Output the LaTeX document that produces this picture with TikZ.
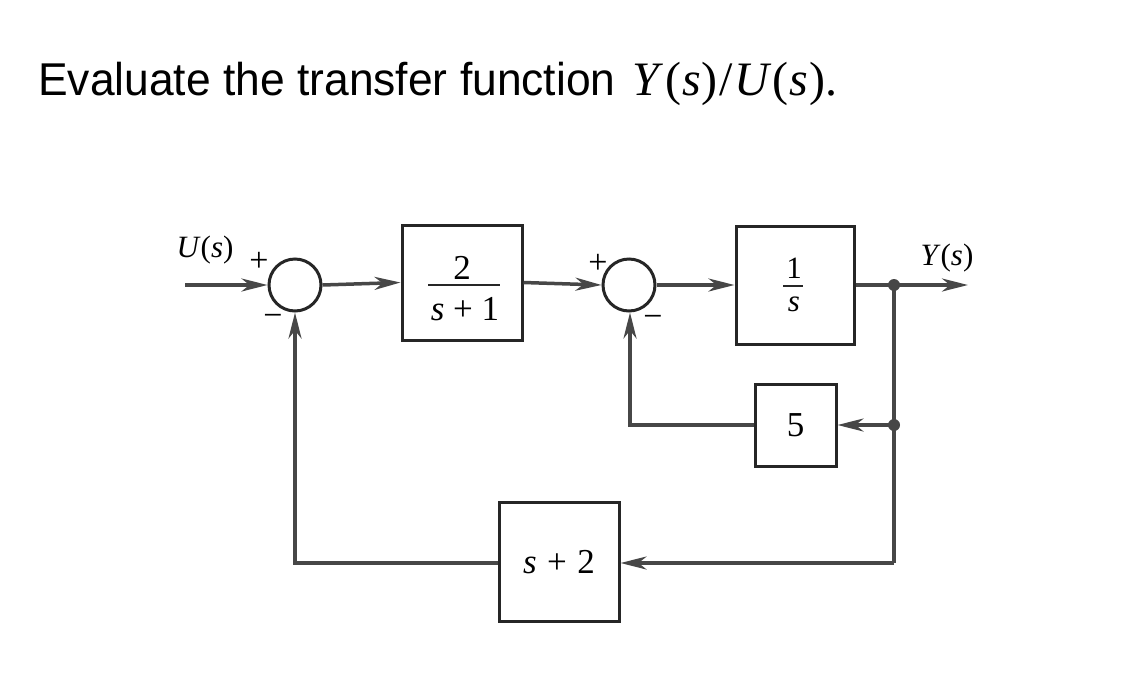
\documentclass[tikz,border=0pt]{standalone}
\usepackage{fontspec}
\setmainfont{Liberation Sans}
\newfontfamily\tfont{Liberation Serif}
\newfontfamily\titlefont[FakeStretch=0.965]{Liberation Sans}
\usetikzlibrary{arrows.meta}
\begin{document}
\begin{tikzpicture}[x=1pt,y=-1pt,
  blk/.style={draw=black!85, line width=3pt, fill=white, inner sep=0pt},
  sumj/.style={circle, draw=black!85, line width=3pt, minimum size=52pt, inner sep=0pt},
  lbl/.style={font=\tfont\fontsize{31}{33}\selectfont, inner sep=0pt},
  biglbl/.style={font=\tfont\fontsize{35}{37}\selectfont, inner sep=0pt},
  sgn/.style={font=\tfont\fontsize{34}{36}\selectfont, inner sep=0pt},
  wire/.style={draw=black!72, line width=3.5pt},
  arr/.style={wire, -{Stealth[length=26pt,width=13pt,inset=8pt]}},
  bar/.style={draw=black!85, line width=2.6pt},
  dot/.style={circle, fill=black!72, minimum size=12pt, inner sep=0pt}
]
\useasboundingbox (0,0) rectangle (1130,673);

% title
\node[anchor=base west, inner sep=0pt, font=\titlefont\fontsize{46}{50}\selectfont] (title) at (38,95)
  {Evaluate the transfer function\hspace{17pt}{\tfont\fontsize{48}{50}\selectfont\textit{Y}\kern1.5pt(\kern1pt\textit{s}\kern1pt)\kern1.5pt/\kern1.5pt\textit{U}\kern1.5pt(\kern1pt\textit{s}\kern1pt).}};

% blocks
\node[blk, minimum width=120pt, minimum height=115pt] (b1) at (462,282.5) {};
\node[biglbl, anchor=base] (b1n) at (462,279) {2};
\draw[bar] (428,285) -- (500,285);
\node[biglbl, anchor=base] (b1d) at (465,320) {\textit{s}\hspace{0.25em}+\hspace{0.25em}1};

\node[blk, minimum width=118pt, minimum height=118pt] (b2) at (795,285) {};
\node[lbl, anchor=base] (b2n) at (794,278) {1};
\draw[bar] (783,286) -- (803,286);
\node[lbl, anchor=base] (b2d) at (794,311) {\textit{s}};

\node[blk, minimum width=81pt, minimum height=82pt, biglbl] (b5) at (795.5,425) {5};
\node[blk, minimum width=120pt, minimum height=119pt, biglbl] (b4) at (559,562) {\textit{s}\hspace{0.3em}+\hspace{0.3em}2};

% summing junctions
\node[sumj] (s1) at (295,285) {};
\node[sumj] (s2) at (629,285) {};

% labels and signs
\node[lbl, anchor=base] (ulab) at (205,257) {\textit{U}(\textit{s})};
\node[lbl, anchor=base] (ylab) at (947,265) {\textit{Y}(\textit{s})};
\node[sgn] (p1) at (259,262) {+};
\node[sgn] (m1) at (273,320) {\textminus};
\node[sgn] (p2) at (598,264) {+};
\node[sgn] (m2) at (653,321) {\textminus};

% coordinates
\coordinate (in) at (185,285);
\coordinate (out) at (968,285);
\node[dot] (br1) at (894,285) {};
\node[dot] (br2) at (894,425) {};
\coordinate (bc) at (894,563);
\coordinate (c5) at (630,425);
\coordinate (c4) at (295,563);

% forward path
\draw[arr] (in) -- (s1.west);
\draw[arr] (s1.east) -- (b1.west);
\draw[arr] (b1.east) -- (s2.west);
\draw[arr] (s2.east) -- (b2.west);
\draw[arr] (b2.east) -- (out);

% feedback
\draw[wire] (br1.center) -- (bc);
\draw[arr] (bc) -- (b4.east |- bc);
\draw[arr] (br2.center) -- (b5.east);
\draw[arr] (b5.west) -- (c5) -- (s2.south -| c5);
\draw[arr] (b4.west |- c4) -- (c4) -- (s1.south);
\end{tikzpicture}
\end{document}
